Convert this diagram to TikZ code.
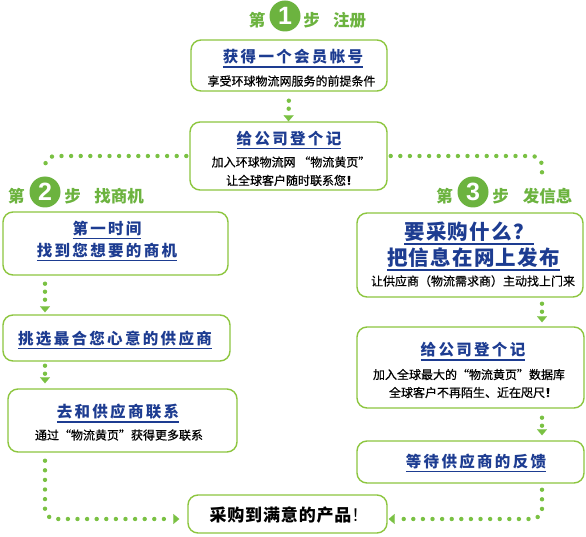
\documentclass[tikz,border=0pt]{standalone}
\usepackage{fontspec}
\setmainfont{Noto Sans CJK SC}
\newfontfamily\numfont{Liberation Sans}
\usetikzlibrary{arrows.meta}
\definecolor{boxgreen}{HTML}{8DC63F}
\definecolor{dotgreen}{HTML}{7AC143}
\definecolor{stepgreen}{HTML}{6CB33F}
\definecolor{titleblue}{HTML}{1D3C91}
\newcommand\myul[1]{\leavevmode\vtop{\hbox{#1}\kern1.8pt\hrule height 1.3pt}}
\tikzset{
 box/.style={draw=boxgreen, line width=1.4pt, rounded corners=10pt, fill=white, inner sep=0pt},
 ttl/.style={anchor=base, inner sep=0pt, text=titleblue, font=\bfseries\fontsize{15.5}{16}\selectfont\addfontfeature{LetterSpace=15}},
 bigttl/.style={anchor=base, inner sep=0pt, text=titleblue, font=\bfseries\fontsize{20.5}{21}\selectfont\addfontfeature{LetterSpace=6}},
 sub/.style={anchor=base, inner sep=0pt, text=black, font=\fontsize{12}{12}\selectfont\addfontfeature{FakeBold=0.5}},
 steptxt/.style={anchor=base, inner sep=0pt, text=stepgreen, font=\bfseries\fontsize{16.5}{17}\selectfont},
 stepnum/.style={circle, fill=stepgreen, text=white, minimum size=31pt, inner sep=0pt, font=\numfont\bfseries\fontsize{25}{25}\selectfont},
 dotline/.style={draw=dotgreen, line width=4.4pt, line cap=round, dash pattern=on 0pt off 8pt},
 dotlong/.style={dotline, dash pattern=on 0pt off 9.6pt},
 tip/.style={-{Triangle[width=10pt,length=6pt,line width=0.1pt]}}
}
\begin{document}
\begin{tikzpicture}[x=1pt,y=-1pt]
\useasboundingbox[fill=white] (0,0) rectangle (586,537);
% step labels
\node[steptxt] (s1a) at (257,27) {第};
\node[stepnum] (s1n) at (285,16) {1};
\node[steptxt] (s1b) at (311.5,27) {步};
\node[steptxt] (s1c) at (349.5,27) {注册};
\node[steptxt] (s2a) at (16.5,203) {第};
\node[stepnum] (s2n) at (45,192) {2};
\node[steptxt] (s2b) at (72.5,203) {步};
\node[steptxt] (s2c) at (119,203) {找商机};
\node[steptxt] (s3a) at (444.5,203) {第};
\node[stepnum] (s3n) at (473,192) {3};
\node[steptxt] (s3b) at (500.5,203) {步};
\node[steptxt] (s3c) at (547.5,203) {发信息};
% boxes
\node[box, minimum width=196pt, minimum height=51pt] (b1) at (289,65.5) {};
\node[box, minimum width=197pt, minimum height=68pt] (b2) at (288.5,156) {};
\node[box, minimum width=225pt, minimum height=63pt] (L1) at (115.5,243.5) {};
\node[box, minimum width=227pt, minimum height=46pt] (L2) at (116.5,338) {};
\node[box, minimum width=229pt, minimum height=63pt] (L3) at (122.5,420.5) {};
\node[box, minimum width=226pt, minimum height=84pt] (R1) at (470,255) {};
\node[box, minimum width=227pt, minimum height=81pt] (R2) at (470.5,367.5) {};
\node[box, minimum width=227pt, minimum height=42pt] (R3) at (470.5,462) {};
\node[box, minimum width=199pt, minimum height=38pt] (bot) at (287.5,514) {};
% texts
\node[ttl] (t1a) at (293,63) {\myul{获得一个会员帐号}};
\node[sub] (t1b) at (291.5,85.6) {享受环球物流网服务的前提条件};
\node[ttl] (t2a) at (289,144.4) {\myul{给公司登个记}};
\node[sub] (t2b) at (291,166.6) {加入环球物流网 “物流黄页”};
\node[sub] (t2c) at (292,185) {让全球客户随时联系您{\bfseries ！}};
\node[ttl] (l1a) at (107,234.4) {\myul{第一时间}};
\node[ttl] (l1b) at (107,256.4) {\myul{找到您想要的商机}};
\node[ttl] (l2a) at (115,344.4) {\myul{挑选最合您心意的供应商}};
\node[ttl] (l3a) at (118,417.9) {\myul{去和供应商联系}};
\node[sub] (l3b) at (119,439.6) {通过“物流黄页”获得更多联系};
\node[bigttl] (r1a) at (469,239.5) {\myul{要采购什么？}};
\node[bigttl] (r1b) at (473.5,265.5) {\myul{把信息在网上发布}};
\node[sub] (r1c) at (473,285.6) {让供应商（物流需求商）主动找上门来};
\node[ttl] (r2a) at (473,355.9) {\myul{给公司登个记}};
\node[sub] (r2b) at (469,379.1) {加入全球最大的“物流黄页”数据库};
\node[sub] (r2c) at (473,397.1) {全球客户不再陌生、近在咫尺{\bfseries ！}};
\node[ttl] (r3a) at (476,467.4) {\myul{等待供应商的反馈}};
\node[anchor=base, inner sep=0pt, font=\bfseries\fontsize{17}{17}\selectfont\addfontfeature{LetterSpace=5}] (bota) at (289,521.5) {采购到满意的产品{\mdseries！}};
% connectors
\coordinate (lx) at (45,0);
\coordinate (rx) at (542,0);
\coordinate (s2top) at (45,172);
\coordinate (s3top) at (542,177);
\draw[dotlong, rounded corners=10pt, shorten <=3pt] (b2.west) -| (s2top);
\draw[dotlong, rounded corners=10pt, shorten <=3pt] (b2.east) -| (s3top);
\draw[dotline, tip, shorten <=9pt] (b1.south) -- (b2.north);
\draw[dotline, tip, shorten <=8pt, shorten >=2pt] (L1.south -| lx) -- (L2.north -| lx);
\draw[dotline, tip, shorten <=4pt, shorten >=5pt] (L2.south -| lx) -- (L3.north -| lx);
\draw[dotlong, tip, rounded corners=10pt, shorten <=8pt, shorten >=8pt] (L3.south -| lx) |- ([yshift=-5pt]bot.west);
\draw[dotline, tip, shorten <=6pt, shorten >=4pt] (R1.south -| rx) -- (R2.north -| rx);
\draw[dotline, tip, shorten <=9pt, shorten >=5pt] (R2.south -| rx) -- (R3.north -| rx);
\draw[dotlong, tip, rounded corners=10pt, shorten <=6pt, shorten >=1pt] (R3.south -| rx) |- ([yshift=-5pt]bot.east);
\end{tikzpicture}
\end{document}
